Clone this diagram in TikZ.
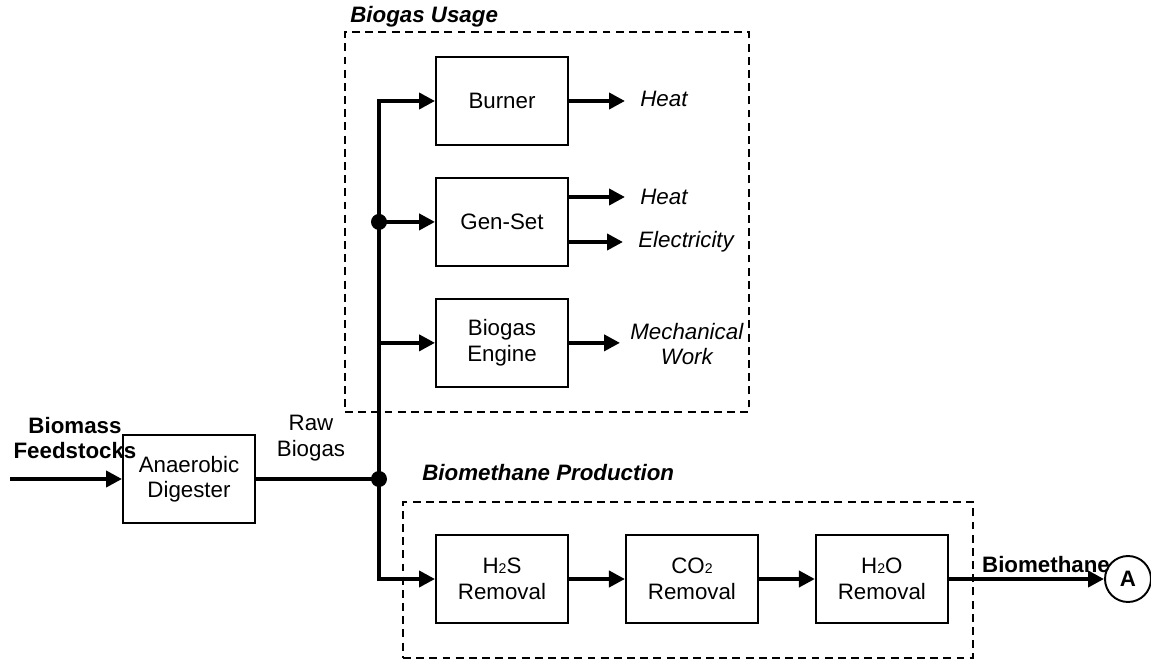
\documentclass[tikz,border=0pt]{standalone}
\usepackage{fontspec}
\setmainfont{Liberation Sans}
\usepackage{tikz}
\usetikzlibrary{arrows.meta, positioning, fit, calc}
\newcommand{\chemsub}[1]{{\fontsize{8}{8}\selectfont #1}}

\begin{document}
\begin{tikzpicture}[
    font=\fontsize{12.7}{14.5}\selectfont,
    node distance=0.62cm,
    unit/.style={rectangle, draw, line width=1.1pt, minimum width=2.64cm, minimum height=1.76cm, align=center},
    group/.style={rectangle, draw, line width=1pt, dash pattern=on 4.5pt off 3pt, inner sep=0pt},
    grouptitle/.style={font=\fontsize{12.7}{14.5}\selectfont\bfseries\itshape, anchor=west, inner sep=0pt},
    outlabel/.style={font=\fontsize{12.7}{14.5}\selectfont\itshape, anchor=west, inner sep=0pt, align=center},
    flow/.style={-{Triangle[length=0.32cm, width=0.32cm]}, line width=2.2pt},
    pipe/.style={line width=2.2pt},
    junction/.style={circle, fill, inner sep=0pt, minimum size=0.32cm}
]
\useasboundingbox (0,0) rectangle (23.02,-13.22);

% digester and feed
\node[unit] (digester) at (3.78,-9.58) {Anaerobic\\Digester};
\coordinate (feed) at (0.2,-9.58);
\node[align=center, font=\fontsize{12.7}{14.5}\selectfont\bfseries, inner sep=0pt] (biomass) at (1.5,-8.76) {Biomass\\Feedstocks};
\node[align=center, inner sep=0pt] (rawgas) at (6.22,-8.76) {Raw\\Biogas};
\coordinate (split) at (7.58,-9.58);

% biogas usage
\node[group, fit={(6.9,-0.64) (14.98,-8.24)}] (usage) {};
\node[grouptitle] (usagetitle) at (7.0,-0.34) {Biogas Usage};
\node[unit] (burner) at (10.04,-2.02) {Burner};
\node[unit, below=of burner] (genset) {Gen-Set};
\node[unit, below=of genset] (engine) {Biogas\\Engine};
\node[outlabel] (heatA) at (12.8,-1.98) {Heat};
\node[outlabel] (heatB) at (12.8,-3.94) {Heat};
\node[outlabel] (elec) at (12.76,-4.84) {Electricity};
\node[outlabel] (mech) at (12.6,-6.88) {Mechanical\\Work};

% biomethane production
\node[group, fit={(8.06,-10.04) (19.46,-13.16)}] (production) {};
\node[grouptitle] (prodtitle) at (8.44,-9.46) {Biomethane Production};
\node[unit] (h2s) at (10.04,-11.58) {H\chemsub{2}S\\Removal};
\node[unit, right=1.12cm of h2s] (co2) {CO\chemsub{2}\\Removal};
\node[unit, right=1.12cm of co2] (h2o) {H\chemsub{2}O\\Removal};
\node[circle, draw, line width=1.1pt, minimum size=0.92cm, inner sep=0pt, font=\fontsize{12.7}{14.5}\selectfont\bfseries] (endA) at (22.56,-11.58) {A};
\node[font=\fontsize{12.7}{14.5}\selectfont\bfseries, inner sep=0pt] (biomethane) at (20.92,-11.3) {Biomethane};

% connections
\draw[flow] (feed) -- (digester);
\draw[pipe] (digester) -- (split);
\draw[flow] (split) |- (burner);
\draw[flow] (split) |- (h2s);
\draw[flow] (split |- genset) -- (genset);
\draw[flow] (split |- engine) -- (engine);
\node[junction] (dotlow) at (split) {};
\node[junction] (dothigh) at (split |- genset) {};

\draw[flow, shorten >=0.3cm] (burner.east) -- (burner.east -| heatA.west);
\draw[flow, shorten >=0.3cm] (genset.east |- heatB) -- (heatB.west);
\draw[flow, shorten >=0.3cm] (genset.east |- elec) -- (elec.west);
\draw[flow, shorten >=0.2cm] (engine.east) -- (engine.east -| mech.west);

\draw[flow] (h2s) -- (co2);
\draw[flow] (co2) -- (h2o);
\draw[flow] (h2o) -- (endA);
\end{tikzpicture}
\end{document}
